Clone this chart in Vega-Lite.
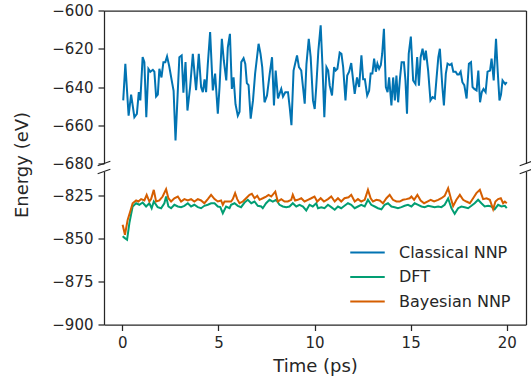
{
  "$schema": "https://vega.github.io/schema/vega-lite/v6.json",
  "background": "white",
  "padding": {"left": 13, "top": 3.5, "right": 0, "bottom": 0},
  "config": {
    "font": "DejaVu Sans",
    "view": {"stroke": null},
    "axis": {
      "grid": false,
      "domainColor": "#262626",
      "tickColor": "#262626",
      "labelColor": "#262626",
      "titleColor": "#262626",
      "domainWidth": 1.25,
      "tickWidth": 1.25,
      "tickSize": 6,
      "labelPadding": 5,
      "labelFontSize": 15,
      "titleFontSize": 18,
      "titleFontWeight": "normal"
    },
    "legend": {
      "labelFontSize": 16,
      "labelColor": "#262626",
      "symbolType": "stroke",
      "symbolSize": 1190,
      "symbolStrokeWidth": 2,
      "clipHeight": 16,
      "rowPadding": 8.5,
      "labelOffset": 13,
      "padding": 0
    }
  },
  "datasets": {
    "classical": [
      {"t":0.05,"E":-647},{"t":0.16,"E":-627.9},{"t":0.33,"E":-655},{"t":0.46,"E":-644},{"t":0.63,"E":-655.8},{"t":0.76,"E":-654},{"t":0.86,"E":-642.7},{"t":0.94,"E":-647},{"t":1.06,"E":-624.4},{"t":1.15,"E":-627},{"t":1.25,"E":-655.8},{"t":1.36,"E":-630.5},{"t":1.46,"E":-632},{"t":1.59,"E":-631},{"t":1.67,"E":-632},{"t":1.76,"E":-645},{"t":1.85,"E":-644},{"t":1.93,"E":-630.5},{"t":2.04,"E":-635},{"t":2.14,"E":-627},{"t":2.24,"E":-627},{"t":2.33,"E":-624},{"t":2.44,"E":-629},{"t":2.59,"E":-637.6},{"t":2.67,"E":-642},{"t":2.77,"E":-668},{"t":2.88,"E":-644},{"t":2.97,"E":-624.4},{"t":3.09,"E":-623.5},{"t":3.18,"E":-643},{"t":3.29,"E":-627},{"t":3.39,"E":-652.3},{"t":3.53,"E":-640},{"t":3.67,"E":-622.6},{"t":3.76,"E":-633},{"t":3.84,"E":-641.7},{"t":3.98,"E":-622.6},{"t":4.10,"E":-640},{"t":4.19,"E":-642.7},{"t":4.28,"E":-636},{"t":4.36,"E":-642.7},{"t":4.45,"E":-628},{"t":4.57,"E":-611.3},{"t":4.71,"E":-641.8},{"t":4.83,"E":-633},{"t":4.97,"E":-654},{"t":5.06,"E":-640},{"t":5.18,"E":-614.8},{"t":5.28,"E":-626},{"t":5.41,"E":-636.6},{"t":5.49,"E":-619.3},{"t":5.60,"E":-612.2},{"t":5.70,"E":-641},{"t":5.79,"E":-635},{"t":5.89,"E":-649},{"t":6.01,"E":-655},{"t":6.10,"E":-653},{"t":6.19,"E":-627},{"t":6.31,"E":-625},{"t":6.40,"E":-628},{"t":6.48,"E":-638},{"t":6.57,"E":-639},{"t":6.68,"E":-656.6},{"t":6.80,"E":-647},{"t":6.91,"E":-633},{"t":7.09,"E":-617.4},{"t":7.19,"E":-622.6},{"t":7.28,"E":-629.6},{"t":7.40,"E":-648},{"t":7.53,"E":-644.4},{"t":7.67,"E":-633},{"t":7.79,"E":-624.4},{"t":7.89,"E":-649.6},{"t":7.98,"E":-631.4},{"t":8.10,"E":-646},{"t":8.18,"E":-643.6},{"t":8.27,"E":-641},{"t":8.36,"E":-645},{"t":8.48,"E":-642.7},{"t":8.62,"E":-642.7},{"t":8.71,"E":-650.6},{"t":8.80,"E":-660},{"t":8.91,"E":-631.4},{"t":9.09,"E":-623.5},{"t":9.19,"E":-629.6},{"t":9.31,"E":-631.4},{"t":9.40,"E":-640},{"t":9.49,"E":-648.7},{"t":9.58,"E":-628},{"t":9.70,"E":-614.8},{"t":9.80,"E":-624.4},{"t":9.92,"E":-647},{"t":10.01,"E":-651.5},{"t":10.09,"E":-640},{"t":10.20,"E":-621},{"t":10.32,"E":-607.8},{"t":10.41,"E":-628},{"t":10.51,"E":-655.8},{"t":10.62,"E":-629.6},{"t":10.71,"E":-631.4},{"t":10.79,"E":-639.3},{"t":10.91,"E":-644.4},{"t":11.02,"E":-629.6},{"t":11.10,"E":-631.4},{"t":11.19,"E":-630.5},{"t":11.31,"E":-622},{"t":11.40,"E":-622.6},{"t":11.49,"E":-629.6},{"t":11.61,"E":-647},{"t":11.70,"E":-634},{"t":11.80,"E":-632},{"t":11.91,"E":-627.5},{"t":12.00,"E":-635.8},{"t":12.09,"E":-643.6},{"t":12.21,"E":-635},{"t":12.32,"E":-640},{"t":12.44,"E":-623.5},{"t":12.53,"E":-636},{"t":12.62,"E":-636},{"t":12.74,"E":-644.4},{"t":12.84,"E":-642},{"t":12.92,"E":-633},{"t":13.01,"E":-633},{"t":13.10,"E":-625.2},{"t":13.19,"E":-632},{"t":13.27,"E":-627.8},{"t":13.36,"E":-630.5},{"t":13.45,"E":-628.5},{"t":13.52,"E":-622.6},{"t":13.61,"E":-609.6},{"t":13.71,"E":-640},{"t":13.80,"E":-642.7},{"t":13.88,"E":-635},{"t":14.00,"E":-649.6},{"t":14.09,"E":-635},{"t":14.18,"E":-647},{"t":14.26,"E":-634},{"t":14.35,"E":-648},{"t":14.44,"E":-636},{"t":14.53,"E":-627},{"t":14.65,"E":-627},{"t":14.73,"E":-636.6},{"t":14.81,"E":-654},{"t":14.90,"E":-622.6},{"t":15.01,"E":-613.6},{"t":15.13,"E":-636.6},{"t":15.25,"E":-638.4},{"t":15.34,"E":-624.4},{"t":15.43,"E":-639.3},{"t":15.52,"E":-624.4},{"t":15.62,"E":-620},{"t":15.71,"E":-626},{"t":15.79,"E":-621},{"t":15.91,"E":-631.4},{"t":16.03,"E":-647},{"t":16.14,"E":-645.3},{"t":16.26,"E":-646},{"t":16.35,"E":-635},{"t":16.44,"E":-624.4},{"t":16.52,"E":-620},{"t":16.65,"E":-640},{"t":16.73,"E":-649.6},{"t":16.83,"E":-633},{"t":16.92,"E":-627.8},{"t":17.04,"E":-628.5},{"t":17.13,"E":-627.8},{"t":17.22,"E":-632},{"t":17.34,"E":-632},{"t":17.43,"E":-633.5},{"t":17.51,"E":-633.5},{"t":17.60,"E":-632},{"t":17.69,"E":-637.5},{"t":17.79,"E":-639},{"t":17.91,"E":-646},{"t":18.03,"E":-627.8},{"t":18.14,"E":-627},{"t":18.22,"E":-640},{"t":18.31,"E":-641},{"t":18.43,"E":-641.8},{"t":18.52,"E":-631.4},{"t":18.61,"E":-648},{"t":18.70,"E":-642.7},{"t":18.79,"E":-641},{"t":18.90,"E":-642.7},{"t":19.00,"E":-632},{"t":19.13,"E":-631.4},{"t":19.21,"E":-625.2},{"t":19.32,"E":-636.6},{"t":19.44,"E":-614.8},{"t":19.53,"E":-632},{"t":19.62,"E":-647},{"t":19.70,"E":-644},{"t":19.78,"E":-636.6},{"t":19.92,"E":-638.5},{"t":20.0,"E":-637.5}
    ],
    "dft": [
      {"t":0.02,"E":-848.6},{"t":0.12,"E":-849.5},{"t":0.25,"E":-850.6},{"t":0.37,"E":-840.9},{"t":0.54,"E":-831.2},{"t":0.72,"E":-829.3},{"t":0.89,"E":-830.2},{"t":1.06,"E":-828.9},{"t":1.24,"E":-831.2},{"t":1.41,"E":-829.3},{"t":1.53,"E":-832.2},{"t":1.64,"E":-828.3},{"t":1.84,"E":-831.6},{"t":2.02,"E":-832.2},{"t":2.19,"E":-829.3},{"t":2.28,"E":-825.4},{"t":2.4,"E":-831.2},{"t":2.54,"E":-832.2},{"t":2.71,"E":-830.2},{"t":2.89,"E":-831.2},{"t":3.06,"E":-831.6},{"t":3.23,"E":-830.8},{"t":3.41,"E":-829.3},{"t":3.58,"E":-831.2},{"t":3.75,"E":-830.2},{"t":3.93,"E":-831.6},{"t":4.1,"E":-832.2},{"t":4.27,"E":-830.8},{"t":4.45,"E":-830.2},{"t":4.62,"E":-829.3},{"t":4.8,"E":-829.3},{"t":4.97,"E":-831.2},{"t":5.1,"E":-831.5},{"t":5.23,"E":-835.1},{"t":5.4,"E":-831.2},{"t":5.58,"E":-832.2},{"t":5.66,"E":-830.2},{"t":5.84,"E":-829.3},{"t":6.01,"E":-830.8},{"t":6.18,"E":-831.6},{"t":6.36,"E":-828.9},{"t":6.53,"E":-827.3},{"t":6.71,"E":-829.3},{"t":6.88,"E":-828.3},{"t":7.05,"E":-830.8},{"t":7.23,"E":-831.2},{"t":7.31,"E":-832.2},{"t":7.48,"E":-829.3},{"t":7.66,"E":-827.3},{"t":7.83,"E":-828.3},{"t":8.0,"E":-827.3},{"t":8.18,"E":-830.2},{"t":8.35,"E":-831.2},{"t":8.53,"E":-831.6},{"t":8.7,"E":-831.2},{"t":8.87,"E":-829.3},{"t":9.05,"E":-831.2},{"t":9.22,"E":-830.2},{"t":9.4,"E":-831.2},{"t":9.57,"E":-833.5},{"t":9.74,"E":-830.2},{"t":9.91,"E":-831.2},{"t":10.09,"E":-829.3},{"t":10.18,"E":-832.2},{"t":10.35,"E":-831.6},{"t":10.52,"E":-832.2},{"t":10.7,"E":-830.2},{"t":10.87,"E":-831.6},{"t":11.05,"E":-833.1},{"t":11.22,"E":-831.2},{"t":11.39,"E":-832.2},{"t":11.56,"E":-830.8},{"t":11.74,"E":-829.3},{"t":11.91,"E":-830.2},{"t":12.09,"E":-832.2},{"t":12.26,"E":-831.2},{"t":12.43,"E":-830.2},{"t":12.61,"E":-831.2},{"t":12.78,"E":-827.3},{"t":12.95,"E":-830.2},{"t":13.13,"E":-831.2},{"t":13.3,"E":-832.2},{"t":13.48,"E":-832.8},{"t":13.65,"E":-830.2},{"t":13.82,"E":-829.3},{"t":14.0,"E":-831.2},{"t":14.17,"E":-831.6},{"t":14.34,"E":-832.2},{"t":14.52,"E":-831.6},{"t":14.69,"E":-830.8},{"t":14.86,"E":-830.2},{"t":15.04,"E":-831.2},{"t":15.21,"E":-829.3},{"t":15.39,"E":-830.2},{"t":15.56,"E":-831.2},{"t":15.73,"E":-831.6},{"t":15.91,"E":-830.8},{"t":16.08,"E":-831.2},{"t":16.25,"E":-831.6},{"t":16.43,"E":-831.2},{"t":16.6,"E":-831.6},{"t":16.77,"E":-830.2},{"t":16.95,"E":-826.5},{"t":17.12,"E":-832.2},{"t":17.29,"E":-835.5},{"t":17.47,"E":-832.2},{"t":17.64,"E":-831.2},{"t":17.81,"E":-831.6},{"t":17.99,"E":-832.2},{"t":18.16,"E":-830.8},{"t":18.33,"E":-829.3},{"t":18.51,"E":-827.3},{"t":18.68,"E":-829.3},{"t":18.85,"E":-831.2},{"t":19.03,"E":-830.8},{"t":19.2,"E":-831.2},{"t":19.37,"E":-832.8},{"t":19.55,"E":-830.2},{"t":19.72,"E":-831.2},{"t":19.9,"E":-830.8},{"t":20.0,"E":-832.2}
    ],
    "bnn": [
      {"t":0.02,"E":-841.9},{"t":0.14,"E":-847.7},{"t":0.28,"E":-839},{"t":0.45,"E":-832.8},{"t":0.54,"E":-829.3},{"t":0.72,"E":-827.7},{"t":0.84,"E":-828.3},{"t":0.98,"E":-826.9},{"t":1.15,"E":-827.7},{"t":1.27,"E":-824.4},{"t":1.41,"E":-828.3},{"t":1.5,"E":-826.9},{"t":1.64,"E":-821.5},{"t":1.76,"E":-828.3},{"t":1.93,"E":-827.7},{"t":2.1,"E":-825.4},{"t":2.28,"E":-821.1},{"t":2.4,"E":-826.4},{"t":2.54,"E":-828.3},{"t":2.71,"E":-826.4},{"t":2.89,"E":-825.4},{"t":3.06,"E":-828.3},{"t":3.23,"E":-826.9},{"t":3.41,"E":-827.7},{"t":3.58,"E":-826.9},{"t":3.75,"E":-828.3},{"t":3.93,"E":-826.9},{"t":4.1,"E":-827.7},{"t":4.27,"E":-829.3},{"t":4.45,"E":-826.9},{"t":4.62,"E":-824.4},{"t":4.8,"E":-826.9},{"t":4.97,"E":-828.3},{"t":5.14,"E":-827.7},{"t":5.23,"E":-830.2},{"t":5.32,"E":-828.3},{"t":5.49,"E":-828.3},{"t":5.66,"E":-828.3},{"t":5.75,"E":-826.9},{"t":5.87,"E":-823.4},{"t":5.98,"E":-826.9},{"t":6.1,"E":-829.3},{"t":6.27,"E":-828.3},{"t":6.44,"E":-826.4},{"t":6.62,"E":-824.4},{"t":6.74,"E":-823.8},{"t":6.88,"E":-826.4},{"t":7.02,"E":-825},{"t":7.14,"E":-827.3},{"t":7.31,"E":-826.4},{"t":7.48,"E":-825.4},{"t":7.61,"E":-824.4},{"t":7.75,"E":-825.4},{"t":7.96,"E":-822.5},{"t":8.09,"E":-828.3},{"t":8.27,"E":-826.9},{"t":8.44,"E":-828.3},{"t":8.61,"E":-828.3},{"t":8.79,"E":-827.3},{"t":8.87,"E":-824.4},{"t":8.99,"E":-827.7},{"t":9.13,"E":-827.3},{"t":9.31,"E":-826.4},{"t":9.48,"E":-828.3},{"t":9.66,"E":-827.3},{"t":9.83,"E":-826.4},{"t":10.0,"E":-825.4},{"t":10.14,"E":-828.3},{"t":10.32,"E":-826.4},{"t":10.49,"E":-828.3},{"t":10.7,"E":-826.9},{"t":10.87,"E":-825.4},{"t":11.05,"E":-828.3},{"t":11.22,"E":-826.4},{"t":11.39,"E":-828.3},{"t":11.56,"E":-826.4},{"t":11.77,"E":-825.8},{"t":11.91,"E":-824.4},{"t":12.09,"E":-828.3},{"t":12.26,"E":-826.9},{"t":12.43,"E":-828.3},{"t":12.61,"E":-827.3},{"t":12.78,"E":-821.5},{"t":12.92,"E":-826.4},{"t":13.04,"E":-828.3},{"t":13.22,"E":-827.3},{"t":13.39,"E":-827.7},{"t":13.56,"E":-829.3},{"t":13.74,"E":-826.4},{"t":13.91,"E":-824.4},{"t":14.08,"E":-827.3},{"t":14.26,"E":-828.3},{"t":14.43,"E":-828.3},{"t":14.6,"E":-827.3},{"t":14.78,"E":-826.9},{"t":14.95,"E":-826.4},{"t":15.04,"E":-825.4},{"t":15.18,"E":-827.3},{"t":15.35,"E":-824.4},{"t":15.52,"E":-827.7},{"t":15.7,"E":-829.3},{"t":15.87,"E":-828.3},{"t":16.04,"E":-827.3},{"t":16.22,"E":-828.3},{"t":16.43,"E":-827.3},{"t":16.6,"E":-826.4},{"t":16.77,"E":-825},{"t":16.95,"E":-820.5},{"t":17.09,"E":-826.4},{"t":17.21,"E":-831},{"t":17.38,"E":-827.3},{"t":17.56,"E":-824.4},{"t":17.73,"E":-827.3},{"t":17.9,"E":-828.3},{"t":18.08,"E":-829.3},{"t":18.25,"E":-826.4},{"t":18.42,"E":-823.4},{"t":18.6,"E":-821.5},{"t":18.77,"E":-826.9},{"t":18.95,"E":-826.4},{"t":19.12,"E":-827.3},{"t":19.29,"E":-832.8},{"t":19.41,"E":-828.3},{"t":19.55,"E":-826.9},{"t":19.69,"E":-826.4},{"t":19.81,"E":-829.3},{"t":19.9,"E":-828.3},{"t":20.0,"E":-829.3}
    ],
    "breaksTop": [{"t": -0.95, "E": -680}, {"t": 21, "E": -680}],
    "breaksBottom": [{"t": -0.95, "E": -810.8}, {"t": 21, "E": -810.8}]
  },
  "bounds": "flush",
  "spacing": 8,
  "resolve": {"legend": {"color": "independent"}},
  "vconcat": [
    {
      "width": 422,
      "height": 153,
      "layer": [
        {
          "data": {"name": "classical"},
          "mark": {"type": "line", "strokeWidth": 2, "color": "#0173b2"},
          "encoding": {
            "x": {"field": "t", "type": "quantitative", "scale": {"domain": [-0.95, 21], "nice": false, "zero": false},
                  "axis": {"orient": "top", "labels": false, "ticks": false, "title": null, "domain": true}},
            "y": {"field": "E", "type": "quantitative", "scale": {"domain": [-680, -600], "nice": false, "zero": false},
                  "axis": {"orient": "left", "values": [-680, -660, -640, -620, -600], "title": "Energy (eV)", "titleY": 154, "titlePadding": 20}}
          }
        },
        {
          "data": {"name": "breaksTop"},
          "mark": {"type": "point", "shape": "M -1 0.36 L 1 -0.36", "size": 160, "filled": false, "stroke": "#262626", "strokeWidth": 1.25, "opacity": 1},
          "encoding": {
            "x": {"field": "t", "type": "quantitative",
                  "axis": {"orient": "top", "labels": false, "ticks": false, "title": null, "domain": true}},
            "y": {"field": "E", "type": "quantitative", "axis": {"orient": "right", "labels": false, "ticks": false, "title": null}}
          }
        }
      ],
      "resolve": {"axis": {"y": "independent"}}
    },
    {
      "width": 422,
      "height": 153,
      "layer": [
        {
          "data": {"name": "dft"},
          "mark": {"type": "line", "strokeWidth": 2},
          "encoding": {
            "x": {"field": "t", "type": "quantitative", "scale": {"domain": [-0.95, 21], "nice": false, "zero": false},
                  "axis": {"orient": "bottom", "values": [0, 5, 10, 15, 20], "title": "Time (ps)", "titlePadding": 7}},
            "y": {"field": "E", "type": "quantitative", "scale": {"domain": [-900, -810.8], "nice": false, "zero": false},
                  "axis": {"orient": "left", "values": [-900, -875, -850, -825], "title": null}},
            "color": {"datum": "DFT", "type": "nominal",
                      "scale": {"domain": ["Classical NNP", "DFT", "Bayesian NNP"], "range": ["#0173b2", "#029e73", "#d55e00"]},
                      "legend": {"title": null, "orient": "bottom-right", "offset": 15}}
          }
        },
        {
          "data": {"name": "breaksBottom"},
          "mark": {"type": "point", "shape": "M -1 0.36 L 1 -0.36", "size": 160, "filled": false, "stroke": "#262626", "strokeWidth": 1.25, "opacity": 1},
          "encoding": {
            "x": {"field": "t", "type": "quantitative",
                  "axis": {"orient": "bottom", "values": [0, 5, 10, 15, 20], "title": "Time (ps)", "titlePadding": 7}},
            "y": {"field": "E", "type": "quantitative", "axis": {"orient": "right", "labels": false, "ticks": false, "title": null}}
          }
        },
        {
          "data": {"name": "bnn"},
          "mark": {"type": "line", "strokeWidth": 2},
          "encoding": {
            "x": {"field": "t", "type": "quantitative",
                  "axis": {"orient": "bottom", "values": [0, 5, 10, 15, 20], "title": "Time (ps)", "titlePadding": 7}},
            "y": {"field": "E", "type": "quantitative", "axis": null},
            "color": {"datum": "Bayesian NNP", "type": "nominal"}
          }
        }
      ],
      "resolve": {"axis": {"y": "independent"}}
    }
  ]
}
